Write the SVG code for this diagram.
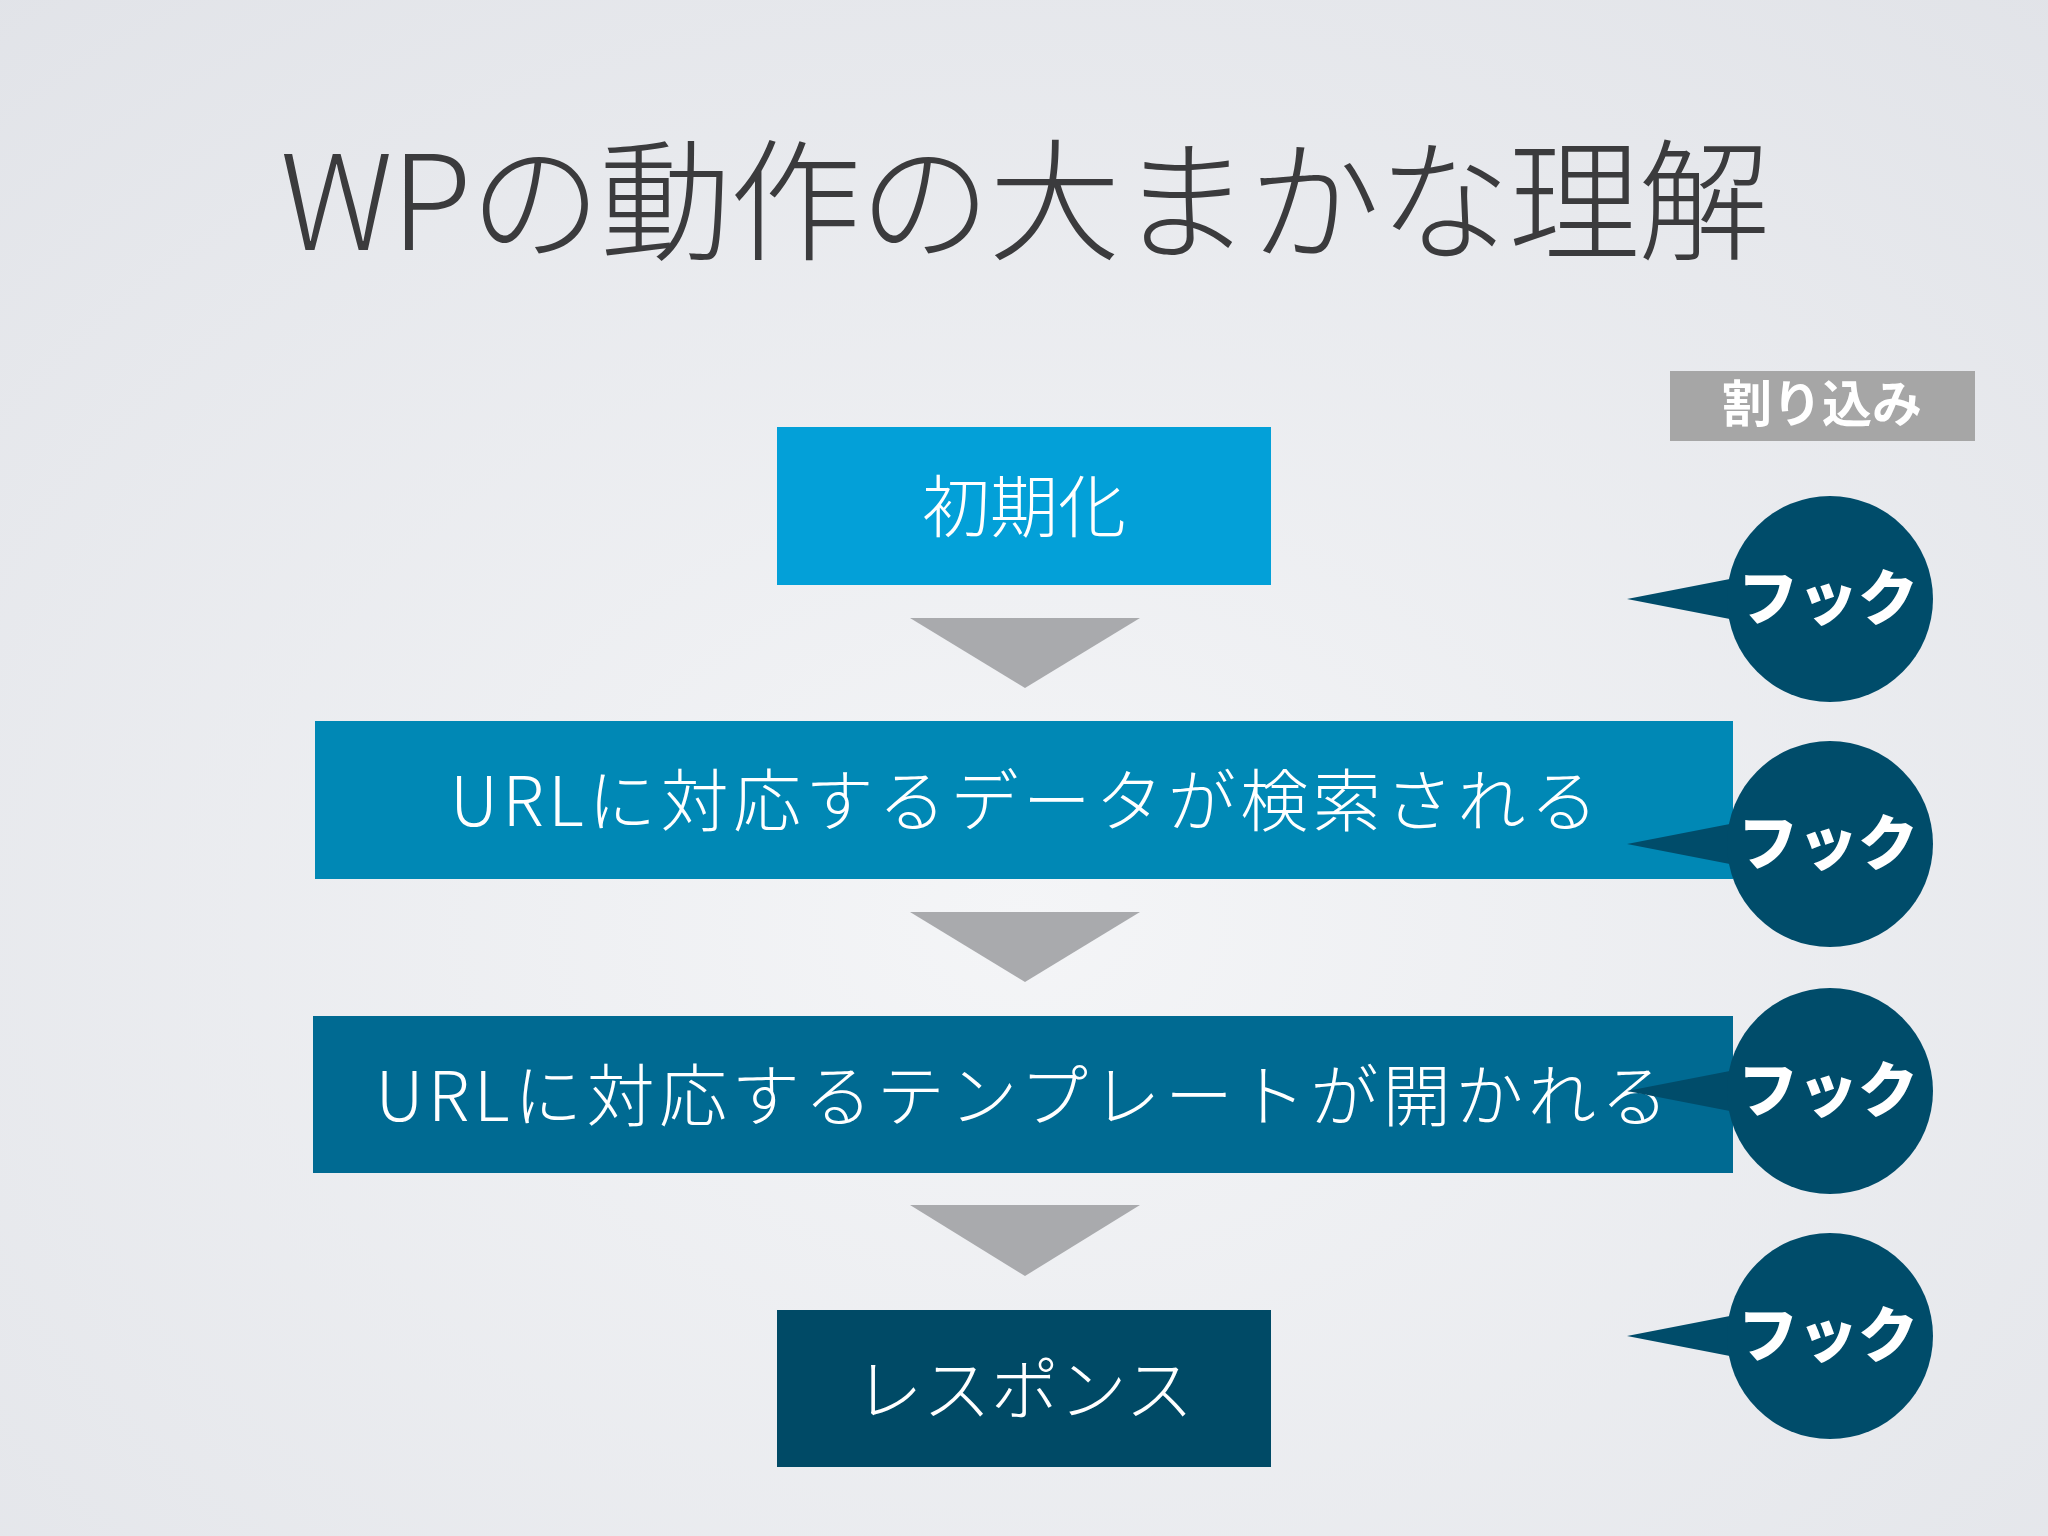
<svg xmlns="http://www.w3.org/2000/svg" width="2048" height="1536" viewBox="0 0 2048 1536">
<defs>
<radialGradient id="bg" cx="0.5" cy="0.6" r="0.8"><stop offset="0" stop-color="#f4f5f7"/><stop offset="1" stop-color="#e1e3e8"/></radialGradient>
<style>
.jp{font-family:"Noto Sans CJK JP","Liberation Sans",sans-serif;fill:#fff;text-anchor:middle}
.t{font-size:68px;font-weight:300}
.h{font-size:60px;font-weight:900}
.arr{fill:#a9aaad}
.hook{fill:#004c6a}
</style>
</defs>
<rect width="2048" height="1536" fill="url(#bg)"/>
<text x="1025" y="250" font-family="'Noto Sans CJK JP','Liberation Sans',sans-serif" font-size="132" font-weight="300" fill="#3b3b3d" text-anchor="middle" textLength="1490">WPの動作の大まかな理解</text>
<g id="connectors">
<polygon class="arr" points="910,618 1140,618 1025,688"/>
<polygon class="arr" points="910,912 1140,912 1025,982"/>
<polygon class="arr" points="910,1205 1140,1205 1025,1276"/>
</g>
<g id="n1"><rect x="777" y="427" width="494" height="158" fill="#03a0d8"/><text class="jp t" x="1024" y="532">初期化</text></g>
<g id="n2"><rect x="315" y="721" width="1418" height="158" fill="#0088b5"/><text class="jp t" x="1024" y="826" textLength="1148">URLに対応するデータが検索される</text></g>
<g id="n3"><rect x="313" y="1016" width="1420" height="157" fill="#006a92"/><text class="jp t" x="1022" y="1121" textLength="1293">URLに対応するテンプレートが開かれる</text></g>
<g id="n4"><rect x="777" y="1310" width="494" height="157" fill="#004a66"/><text class="jp t" x="1024" y="1415">レスポンス</text></g>
<g id="label"><rect x="1670" y="371" width="305" height="70" fill="#a6a6a6"/><text class="jp" x="1822" y="422" font-size="50" font-weight="700">割り込み</text></g>
<g id="hook1"><polygon class="hook" points="1627,599 1735,578 1735,620"/><circle class="hook" cx="1830" cy="599" r="103"/><text class="jp h" x="1828" y="620">フック</text></g>
<g id="hook2"><polygon class="hook" points="1627,844 1735,823 1735,865"/><circle class="hook" cx="1830" cy="844" r="103"/><text class="jp h" x="1828" y="865">フック</text></g>
<g id="hook3"><polygon class="hook" points="1627,1091 1735,1070 1735,1112"/><circle class="hook" cx="1830" cy="1091" r="103"/><text class="jp h" x="1828" y="1112">フック</text></g>
<g id="hook4"><polygon class="hook" points="1627,1336 1735,1315 1735,1357"/><circle class="hook" cx="1830" cy="1336" r="103"/><text class="jp h" x="1828" y="1357">フック</text></g>
</svg>
